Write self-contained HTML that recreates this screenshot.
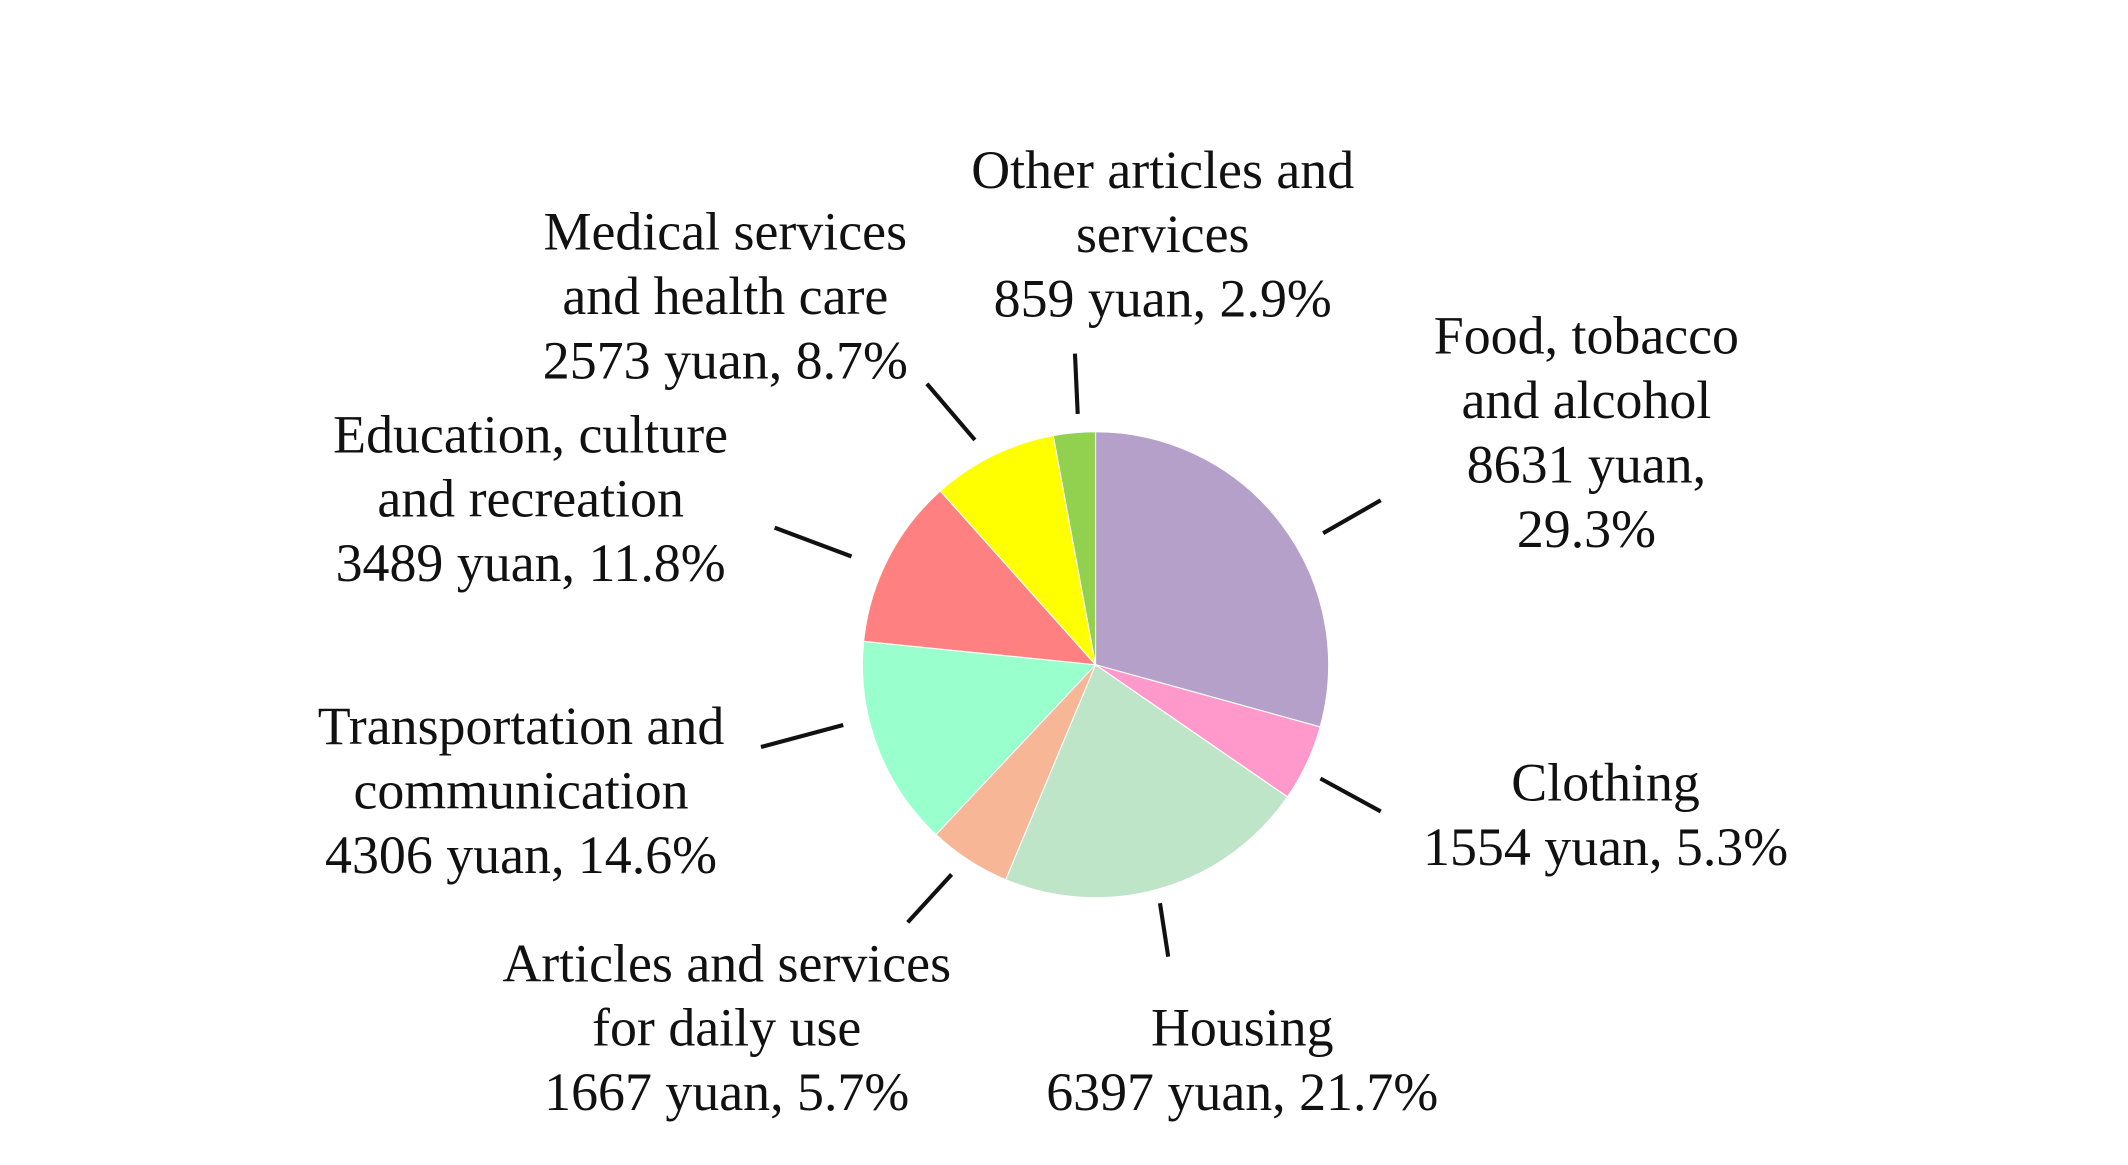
<!DOCTYPE html>
<html><head><meta charset="utf-8"><style>
html,body{margin:0;padding:0;background:#fff;}
svg{display:block;}
text{font-family:"Liberation Serif",serif;font-size:39.3px;fill:#111;text-anchor:middle;}
</style></head><body>
<svg id="chart" width="2128" height="1165" viewBox="0 0 1552 850" preserveAspectRatio="none" xmlns="http://www.w3.org/2000/svg">
<g id="slices"></g>
<g id="leaders" stroke="#111" stroke-width="3"></g>
<g id="labels"></g>
</svg>
<script>
const categories = ["Food, tobacco and alcohol","Clothing","Housing","Articles and services for daily use","Transportation and communication","Education, culture and recreation","Medical services and health care","Other articles and services"];
const amounts = [8631,1554,6397,1667,4306,3489,2573,859];
const percents = [29.3,5.3,21.7,5.7,14.6,11.8,8.7,2.9];
const colors = ["#b4a0c9","#ff99cc","#bfe5c9","#f7b696","#99ffcc","#ff8080","#ffff00","#92d050"];
const labelLines = [
  ["Food, tobacco","and alcohol","8631 yuan,","29.3%"],
  ["Clothing","1554 yuan, 5.3%"],
  ["Housing","6397 yuan, 21.7%"],
  ["Articles and services","for daily use","1667 yuan, 5.7%"],
  ["Transportation and","communication","4306 yuan, 14.6%"],
  ["Education, culture","and recreation","3489 yuan, 11.8%"],
  ["Medical services","and health care","2573 yuan, 8.7%"],
  ["Other articles and","services","859 yuan, 2.9%"]
];
const cx=799, cy=485, r=170;
const labelPos=[[1157,258],[1171,584],[906,763],[530,716],[380,543],[387,330],[529,182],[848,137]];
const leaderPos=[[1007,365,965,389],[963,568,1007,592],[846,659,852,698],[694,638,662,673],[615,529,555,545],[621,406,565,385],[711,321,676,280],[786,302,784,258]];
const NS="http://www.w3.org/2000/svg";
const total=percents.reduce((a,b)=>a+b,0);
const sg=document.getElementById('slices'), lg=document.getElementById('leaders'), tg=document.getElementById('labels');
let a0=0;
percents.forEach((p,i)=>{
  const a1=a0+p/total*2*Math.PI;
  const pt=a=>[cx+r*Math.sin(a), cy-r*Math.cos(a)];
  const [x0,y0]=pt(a0),[x1,y1]=pt(a1);
  const path=document.createElementNS(NS,'path');
  path.setAttribute('d',`M${cx},${cy}L${x0},${y0}A${r},${r} 0 ${(a1-a0)>Math.PI?1:0} 1 ${x1},${y1}Z`);
  path.setAttribute('fill',colors[i]);
  path.setAttribute('stroke','#fff');path.setAttribute('stroke-width','0.8');
  
  
  sg.appendChild(path);
  const l=document.createElementNS(NS,'line');
  const q=leaderPos[i];
  l.setAttribute('x1',q[0]);l.setAttribute('y1',q[1]);l.setAttribute('x2',q[2]);l.setAttribute('y2',q[3]);
  
  
  lg.appendChild(l);
  const t=document.createElementNS(NS,'text');
  
  
  labelLines[i].forEach((s,j)=>{
    const ts=document.createElementNS(NS,'tspan');
    ts.setAttribute('x',labelPos[i][0]);ts.setAttribute('y',labelPos[i][1]+47*j);
    ts.textContent=s;t.appendChild(ts);
  });
  tg.appendChild(t);
  a0=a1;
});
</script>
</body></html>
